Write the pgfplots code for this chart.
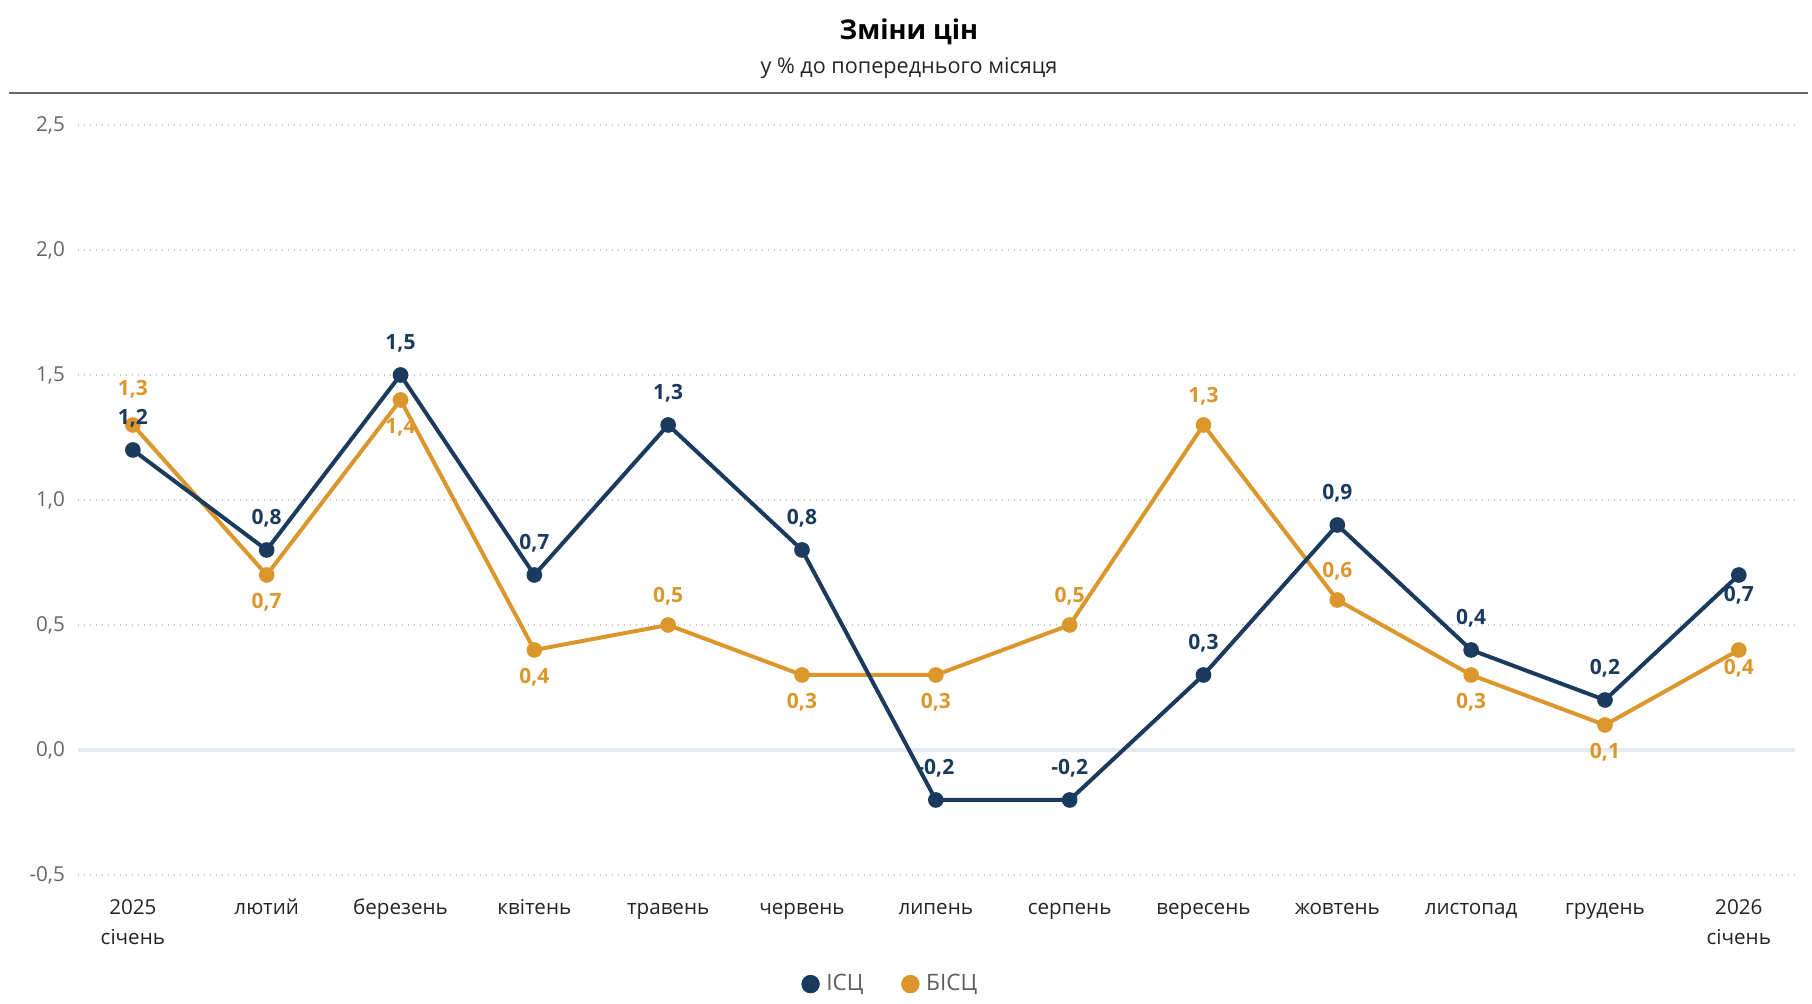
\documentclass[border=0pt]{standalone}
\usepackage{pgfplots}
\pgfplotsset{compat=1.18}
\usepackage{fontspec}
\setmainfont{Open Sans}
\definecolor{navy}{HTML}{1A3A5E}
\definecolor{gold}{HTML}{DB962C}
\definecolor{zeroc}{HTML}{E5EBF0}
\definecolor{gridc}{HTML}{C8C8C8}
\definecolor{ytc}{HTML}{666666}
\definecolor{xtc}{HTML}{252423}
\definecolor{legc}{HTML}{605E5C}
\newcommand{\R}{\rule{0pt}{7.6pt}}
\pgfplotsset{
  lab/.style 2 args={draw=none, mark=none, forget plot,
    point meta=explicit symbolic, nodes near coords,
    every node near coord/.append style={anchor=center, yshift=#2, inner sep=0pt,
      font=\fontsize{10.5}{12}\selectfont\bfseries, text=#1}},
}

\begin{document}
\begin{tikzpicture}
\useasboundingbox (0,0) rectangle (906pt,502pt);
\node[font=\fontsize{13.6}{16}\selectfont\bfseries, text=black] at (454.5pt,486pt) {Зміни цін};
\node[font=\fontsize{10.8}{13}\selectfont, text=xtc] at (454.5pt,468pt) {у \% до попереднього місяця};
\draw[color=ytc, line width=0.7pt] (4.5pt,455.5pt) -- (904pt,455.5pt);
\begin{axis}[
  at={(39pt,64.5pt)}, anchor=south west,
  scale only axis, width=858.5pt, height=375pt,
  xmin=-0.41, xmax=12.42, ymin=-0.5, ymax=2.5,
  clip=false,
  axis line style={draw=none},
  tick style={draw=none},
  xtick={0,...,12},
  xticklabels={{\R 2025\\січень},\R лютий,\R березень,\R квітень,\R травень,\R червень,\R липень,\R серпень,\R вересень,\R жовтень,\R листопад,\R грудень,{\R 2026\\січень}},
  xticklabel style={align=center, anchor=north, inner sep=0pt, yshift=-11.8pt, text=xtc, font=\fontsize{10.3}{15}\selectfont},
  ytick={-0.5,0,0.5,1,1.5,2,2.5},
  yticklabels={{-0,5},{0,0},{0,5},{1,0},{1,5},{2,0},{2,5}},
  yticklabel style={anchor=east, inner sep=0pt, xshift=-6.4pt, text=ytc, font=\fontsize{10.3}{12}\selectfont},
  ymajorgrids,
  grid style={color=gridc, line width=0.6pt, dash pattern=on 0.6pt off 2.4pt},
  legend columns=2,
  legend style={at={(0.4738,-0.1455)}, anchor=center, draw=none, fill=none,
    font=\fontsize{11.3}{13}\selectfont, text=legc,
    /tikz/every odd column/.append style={column sep=1.5pt},
    /tikz/every even column/.append style={column sep=17pt}},
  legend cell align=left,
]
\draw[color=zeroc, line width=2pt] (axis cs:-0.41,0) -- (axis cs:12.42,0);
% БІСЦ
\addplot[color=gold, line width=2pt, mark=*, mark size=2.9pt, mark options={fill=gold, draw=gold}, forget plot]
  coordinates {(0,1.3) (1,0.7) (2,1.4) (3,0.4) (4,0.5) (5,0.3) (6,0.3) (7,0.5) (8,1.3) (9,0.6) (10,0.3) (11,0.1) (12,0.4)};
% ІСЦ
\addplot[color=navy, line width=2pt, mark=*, mark size=2.9pt, mark options={fill=navy, draw=navy}, forget plot]
  coordinates {(0,1.2) (1,0.8) (2,1.5) (3,0.7) (4,1.3) (5,0.8) (6,-0.2) (7,-0.2) (8,0.3) (9,0.9) (10,0.4) (11,0.2) (12,0.7)};
% labels БІСЦ
\addplot[lab={gold}{18pt}] coordinates {(0,1.3) [1,3]};
\addplot[lab={gold}{14.5pt}] coordinates {(4,0.5) [0,5] (7,0.5) [0,5] (8,1.3) [1,3] (9,0.6) [0,6]};
\addplot[lab={gold}{-13.5pt}] coordinates {(1,0.7) [0,7] (2,1.4) [1,4] (3,0.4) [0,4] (5,0.3) [0,3] (6,0.3) [0,3] (10,0.3) [0,3] (11,0.1) [0,1]};
\addplot[lab={gold}{-9pt}] coordinates {(12,0.4) [0,4]};
% labels ІСЦ
\addplot[lab={navy}{16pt}] coordinates {(0,1.2) [1,2] (1,0.8) [0,8] (2,1.5) [1,5] (3,0.7) [0,7] (4,1.3) [1,3] (5,0.8) [0,8] (6,-0.2) [-0,2] (7,-0.2) [-0,2] (8,0.3) [0,3] (9,0.9) [0,9] (10,0.4) [0,4] (11,0.2) [0,2]};
\addplot[lab={navy}{-10pt}] coordinates {(12,0.7) [0,7]};
\addlegendimage{only marks, mark=*, mark size=4.4pt, mark options={fill=navy, draw=navy}}
\addlegendentry{ІСЦ}
\addlegendimage{only marks, mark=*, mark size=4.4pt, mark options={fill=gold, draw=gold}}
\addlegendentry{БІСЦ}
\end{axis}
\end{tikzpicture}
\end{document}
